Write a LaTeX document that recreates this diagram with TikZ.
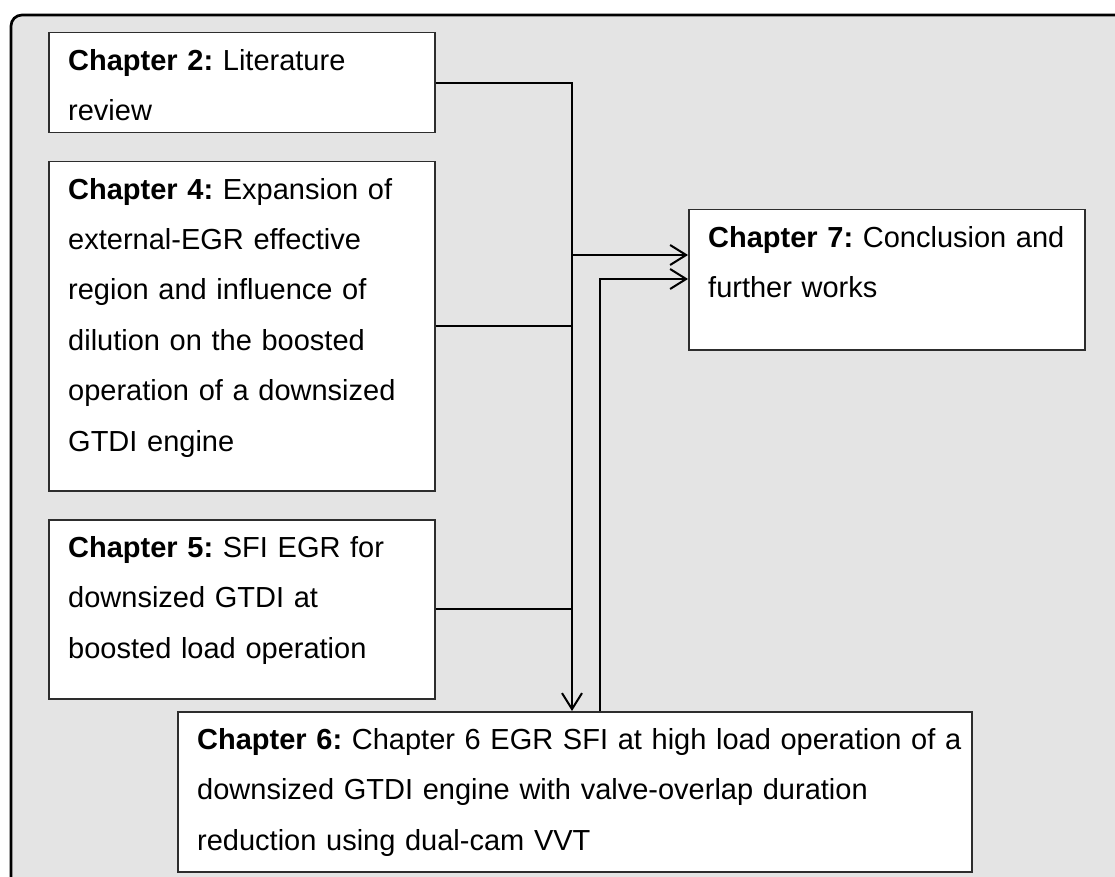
\documentclass[tikz,border=0pt]{standalone}
\usepackage{fontspec}
\setmainfont{Liberation Sans}
\usetikzlibrary{arrows.meta}
\definecolor{panel}{RGB}{228,228,228}
\definecolor{boxline}{RGB}{45,45,45}
\tikzset{
  chbox/.style={draw=boxline, line width=1.5pt, fill=white, anchor=north west,
                inner sep=0pt},
  chtext/.style={anchor=north west, inner xsep=20pt, inner ysep=0pt,
                 text width=800pt, align=left,
                 font=\fontsize{29}{50.4}\selectfont\frenchspacing},
  link/.style={draw=black, line width=2pt},
  arrowlink/.style={-{Straight Barb[length=16pt,width=20pt]}},
}
\newcommand{\firstline}{\rule{0pt}{38pt}}
\begin{document}
\begin{tikzpicture}[x=1pt,y=-1pt]
  % page and grey panel
  \fill[white] (0,0) rectangle (1115,877);
  \useasboundingbox (0,0) rectangle (1115,877);
  \clip (0,0) rectangle (1115,877);
  \draw[line width=2.7pt, fill=panel, rounded corners=11pt] (11,15) rectangle (1150,910);

  % chapter boxes
  \node[chbox, minimum width=386pt, minimum height=100pt] (c2) at (48,32) {};
  \node[chbox, minimum width=386pt, minimum height=329pt] (c4) at (48,161) {};
  \node[chbox, minimum width=386pt, minimum height=179pt] (c5) at (48,519) {};
  \node[chbox, minimum width=794pt, minimum height=160pt] (c6) at (177,711) {};
  \node[chbox, minimum width=396pt, minimum height=140pt] (c7) at (688,209) {};

  % chapter texts
  \node[chtext] (c2t) at (c2.north west)
    {\firstline\textbf{Chapter 2:} Literature\\review};
  \node[chtext] (c4t) at (c4.north west)
    {\firstline\textbf{Chapter 4:} Expansion of\\external-EGR effective\\region and influence of\\dilution on the boosted\\operation of a downsized\\GTDI engine};
  \node[chtext] (c5t) at (c5.north west)
    {\firstline\textbf{Chapter 5:} SFI EGR for\\downsized GTDI at\\boosted load operation};
  \node[chtext] (c6t) at (c6.north west)
    {\firstline\textbf{Chapter 6:} Chapter 6 EGR SFI at high load operation of a\\downsized GTDI engine with valve-overlap duration\\reduction using dual-cam VVT};
  \node[chtext] (c7t) at (c7.north west)
    {\firstline\textbf{Chapter 7:} Conclusion and\\further works};

  % connector routing
  \coordinate (bus) at (572,0);
  \coordinate (ret) at (600,0);
  \path (c7.north west) ++(0,46) coordinate (in1) ++(0,24) coordinate (in2);

  \draw[link, arrowlink] (c2.east) -| (c6.north -| bus);
  \draw[link] (c4.east) -- (c4.east -| bus);
  \draw[link] (c5.east) -- (c5.east -| bus);
  \draw[link, arrowlink] (in1 -| bus) -- (in1);
  \draw[link, arrowlink] (c6.north -| ret) |- (in2);
\end{tikzpicture}
\end{document}
